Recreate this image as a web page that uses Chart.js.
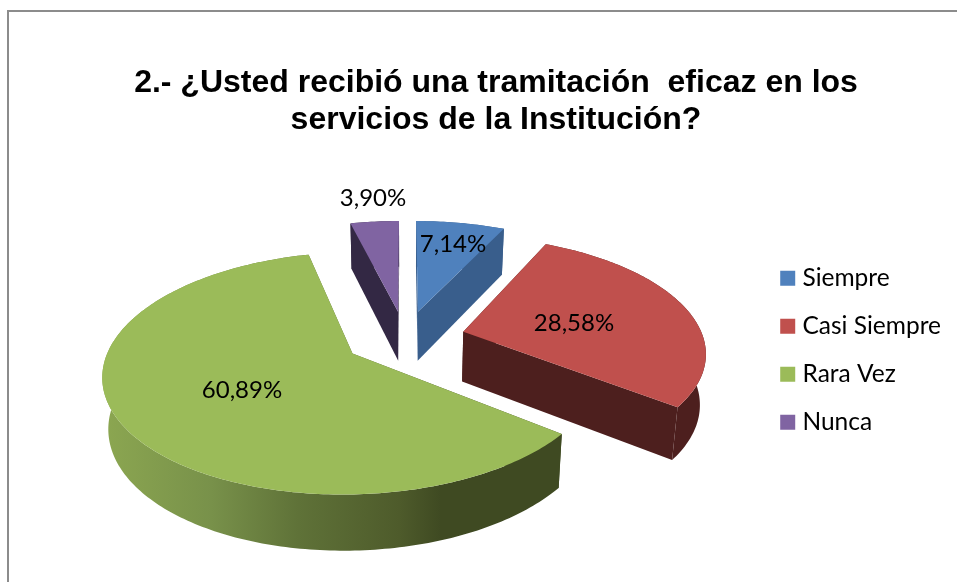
<!DOCTYPE html>
<html>
<head>
<meta charset="utf-8">
<style>
html,body{margin:0;padding:0;background:#fff;overflow:hidden}
#wrap{position:relative;width:957px;height:582px}
canvas{display:block}
</style>
<script src="https://cdn.jsdelivr.net/npm/chart.js@4"></script>
</head>
<body>
<div id="wrap"><canvas id="c" width="957" height="582"></canvas></div>
<script>
const titleLines = ['2.- ¿Usted recibió una tramitación  eficaz en los', 'servicios de la Institución?'];
const categories = ['Siempre', 'Casi Siempre', 'Rara Vez', 'Nunca'];
const seriesValues = [7.14, 28.58, 60.89, 3.90];
const valueLabels = ['7,14%', '28,58%', '60,89%', '3,90%'];
const topColors = ['#4F81BD', '#C0504D', '#9BBB59', '#8064A2'];
const wallColors = ['#395E8C', '#4D1F1E', null, '#332844'];

// presentation only: perspective of the 3D pie
const view = {xc: 405, yc: 335, a: 239, b: 112, k: 0.16, depth: 50, depthGain: 27, floorScale: 0.98};
const explodeX = [0.056, 0.245, -0.214, -0.03];
const explodeY = [-0.215, -0.03, 0.16, -0.215];
const labelX = [453, 574, 242, 373];
const labelY = [244, 323, 390, 198];
const drawOrder = [3, 0, 1, 2];

function project(x, y, floor) {
  const w = 1 / (1 - view.k * y);
  let X = view.xc + view.a * x * w;
  let Y = view.yc + view.b * y * w;
  if (floor) {
    X = view.xc + (X - view.xc) * view.floorScale;
    Y += view.depth + view.depthGain * (w - 1);
  }
  return [X, Y];
}
function fillPoly(ctx, pts, color) {
  ctx.beginPath();
  pts.forEach((p, i) => i ? ctx.lineTo(p[0], p[1]) : ctx.moveTo(p[0], p[1]));
  ctx.closePath();
  ctx.fillStyle = color;
  ctx.fill();
}
const pie3d = {
  id: 'pie3d',
  beforeDraw(chart) {
    const ctx = chart.ctx;
    ctx.save();
    ctx.fillStyle = '#fff';
    ctx.fillRect(0, 0, chart.width, chart.height);
    ctx.strokeStyle = '#8C8C8C';
    ctx.lineWidth = 2;
    ctx.beginPath();
    ctx.moveTo(8, chart.height);
    ctx.lineTo(8, 11);
    ctx.lineTo(chart.width, 11);
    ctx.stroke();
    ctx.restore();
  },
  beforeDatasetsDraw(chart) {
    const ctx = chart.ctx;
    const arcs = chart.getDatasetMeta(0).data;
    const greenRamp = ctx.createLinearGradient(101, 0, 560, 0);
    [[0, '#8CA751'], [0.24, '#78914A'], [0.43, '#5F7238'], [0.65, '#4E5B2B'], [0.74, '#3F4A22'], [1, '#3F4A22']]
      .forEach(s => greenRamp.addColorStop(s[0], s[1]));
    ctx.save();
    drawOrder.forEach(i => {
      const arc = arcs[i];
      const ox = explodeX[i], oy = explodeY[i];
      const n = Math.max(4, Math.ceil((arc.endAngle - arc.startAngle) / (Math.PI / 180)));
      const rim = [];
      for (let s = 0; s <= n; s++) {
        const t = arc.startAngle + (arc.endAngle - arc.startAngle) * s / n;
        rim.push([Math.cos(t) + ox, Math.sin(t) + oy]);
      }
      const top = rim.map(p => project(p[0], p[1], false));
      const low = rim.map(p => project(p[0], p[1], true));
      const apexT = project(ox, oy, false), apexB = project(ox, oy, true);
      const wall = wallColors[i] || greenRamp;
      fillPoly(ctx, top.concat(low.slice().reverse()), wall);
      fillPoly(ctx, [apexT, top[0], low[0], apexB], wall);
      fillPoly(ctx, [apexT, top[n], low[n], apexB], wall);
      fillPoly(ctx, [apexT].concat(top), topColors[i]);
    });
    ctx.fillStyle = '#000';
    ctx.font = '24px Lato';
    ctx.textAlign = 'center';
    ctx.textBaseline = 'middle';
    valueLabels.forEach((t, i) => ctx.fillText(t, labelX[i], labelY[i]));
    ctx.restore();
    return false;
  }
};
new Chart(document.getElementById('c'), {
  type: 'pie',
  data: {
    labels: categories,
    datasets: [{data: seriesValues, backgroundColor: topColors, borderWidth: 0}]
  },
  plugins: [pie3d],
  options: {
    responsive: false,
    animation: false,
    rotation: 0,
    layout: {padding: {left: 41, right: 6, top: 0, bottom: 40}},
    plugins: {
      tooltip: {enabled: false},
      title: {
        display: true,
        text: titleLines,
        color: '#000',
        font: {family: '"Liberation Sans"', size: 32, weight: 'bold', lineHeight: 1.15},
        padding: {top: 65, bottom: 20}
      },
      legend: {
        position: 'right',
        align: 'center',
        fullSize: false,
        labels: {
          color: '#000',
          font: {family: 'Lato', size: 24.5},
          usePointStyle: true,
          pointStyle: 'rect',
          boxWidth: 5,
          boxHeight: 15,
          padding: 23.5
        }
      }
    }
  }
});
</script>
</body>
</html>
